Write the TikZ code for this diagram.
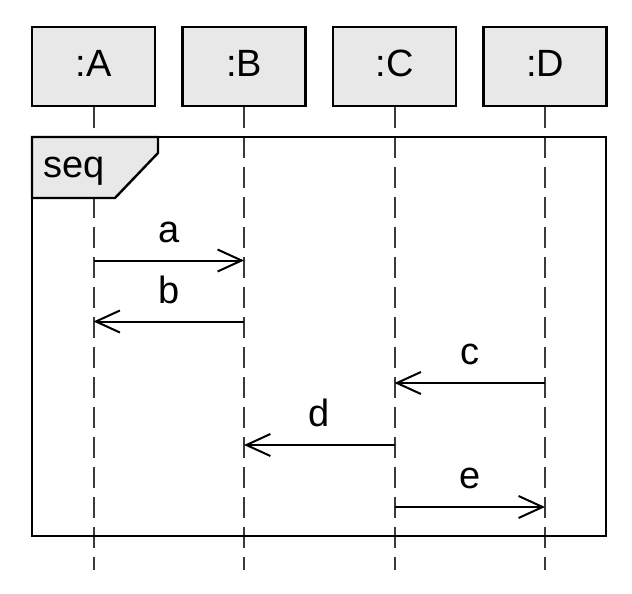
\documentclass[tikz,border=0pt]{standalone}
\usepackage{fontspec}
\setmainfont{Liberation Sans}
\usetikzlibrary{arrows.meta}
\definecolor{boxgray}{HTML}{E8E8E8}
\definecolor{lifegray}{HTML}{3A3A3A}
\begin{document}
\begin{tikzpicture}[x=1pt,y=-1pt,
  bigtext/.style={font=\fontsize{38}{40}\selectfont},
  objbox/.style={draw=black, line width=2.4pt, fill=boxgray,
    minimum width=123pt, minimum height=79pt, inner sep=0pt,
    text depth=6pt, bigtext},
  lifeline/.style={draw=lifegray, line width=2pt, dash pattern=on 21pt off 9pt},
  msg/.style={draw=black, line width=2pt,
    -{Straight Barb[length=24pt,width=22pt]}},
  msglabel/.style={above=17pt, inner sep=0pt, bigtext},
  framebox/.style={draw=black, line width=2.4pt, minimum width=574pt,
    minimum height=399pt, inner sep=0pt},
  tagshape/.style={draw=black, line width=2.4pt, fill=boxgray, line join=miter},
]
\useasboundingbox (0,0) rectangle (632,594);

% lifeline heads
\node[objbox] (A) at (93.5,66.5) {:A};
\node[objbox] (B) at (244,66.5) {:B};
\node[objbox] (C) at (394.5,66.5) {:C};
\node[objbox] (D) at (545,66.5) {:D};

% lifeline ends
\coordinate (Aend) at (93.5,570);
\coordinate (Bend) at (244,570);
\coordinate (Cend) at (394.5,570);
\coordinate (Dend) at (545,570);

% dashed lifelines
\draw[lifeline] (A.south) -- (Aend);
\draw[lifeline] (B.south) -- (Bend);
\draw[lifeline] (C.south) -- (Cend);
\draw[lifeline] (D.south) -- (Dend);

% combined fragment frame and its tag
\path[tagshape] (32,137) -- (158,137) -- (158,153) -- (115,198) -- (32,198) -- cycle;
\node[framebox] (frame) at (319,336.5) {};
\node[anchor=base west, inner sep=0pt, bigtext] (seqlabel) at (43,177) {seq};

% message points on the lifelines
\coordinate (A-a) at (93.5,260.5);
\coordinate (B-a) at (244,260.5);
\coordinate (A-b) at (93.5,321.5);
\coordinate (B-b) at (244,321.5);
\coordinate (C-c) at (394.5,383);
\coordinate (D-c) at (545,383);
\coordinate (B-d) at (244,445);
\coordinate (C-d) at (394.5,445);
\coordinate (C-e) at (394.5,507);
\coordinate (D-e) at (545,507);

% messages
\draw[msg] (A-a) -- node[msglabel] (la) {a} (B-a);
\draw[msg] (B-b) -- node[msglabel] (lb) {b} (A-b);
\draw[msg] (D-c) -- node[msglabel] (lc) {c} (C-c);
\draw[msg] (C-d) -- node[msglabel] (ld) {d} (B-d);
\draw[msg] (C-e) -- node[msglabel] (le) {e} (D-e);
\end{tikzpicture}
\end{document}
